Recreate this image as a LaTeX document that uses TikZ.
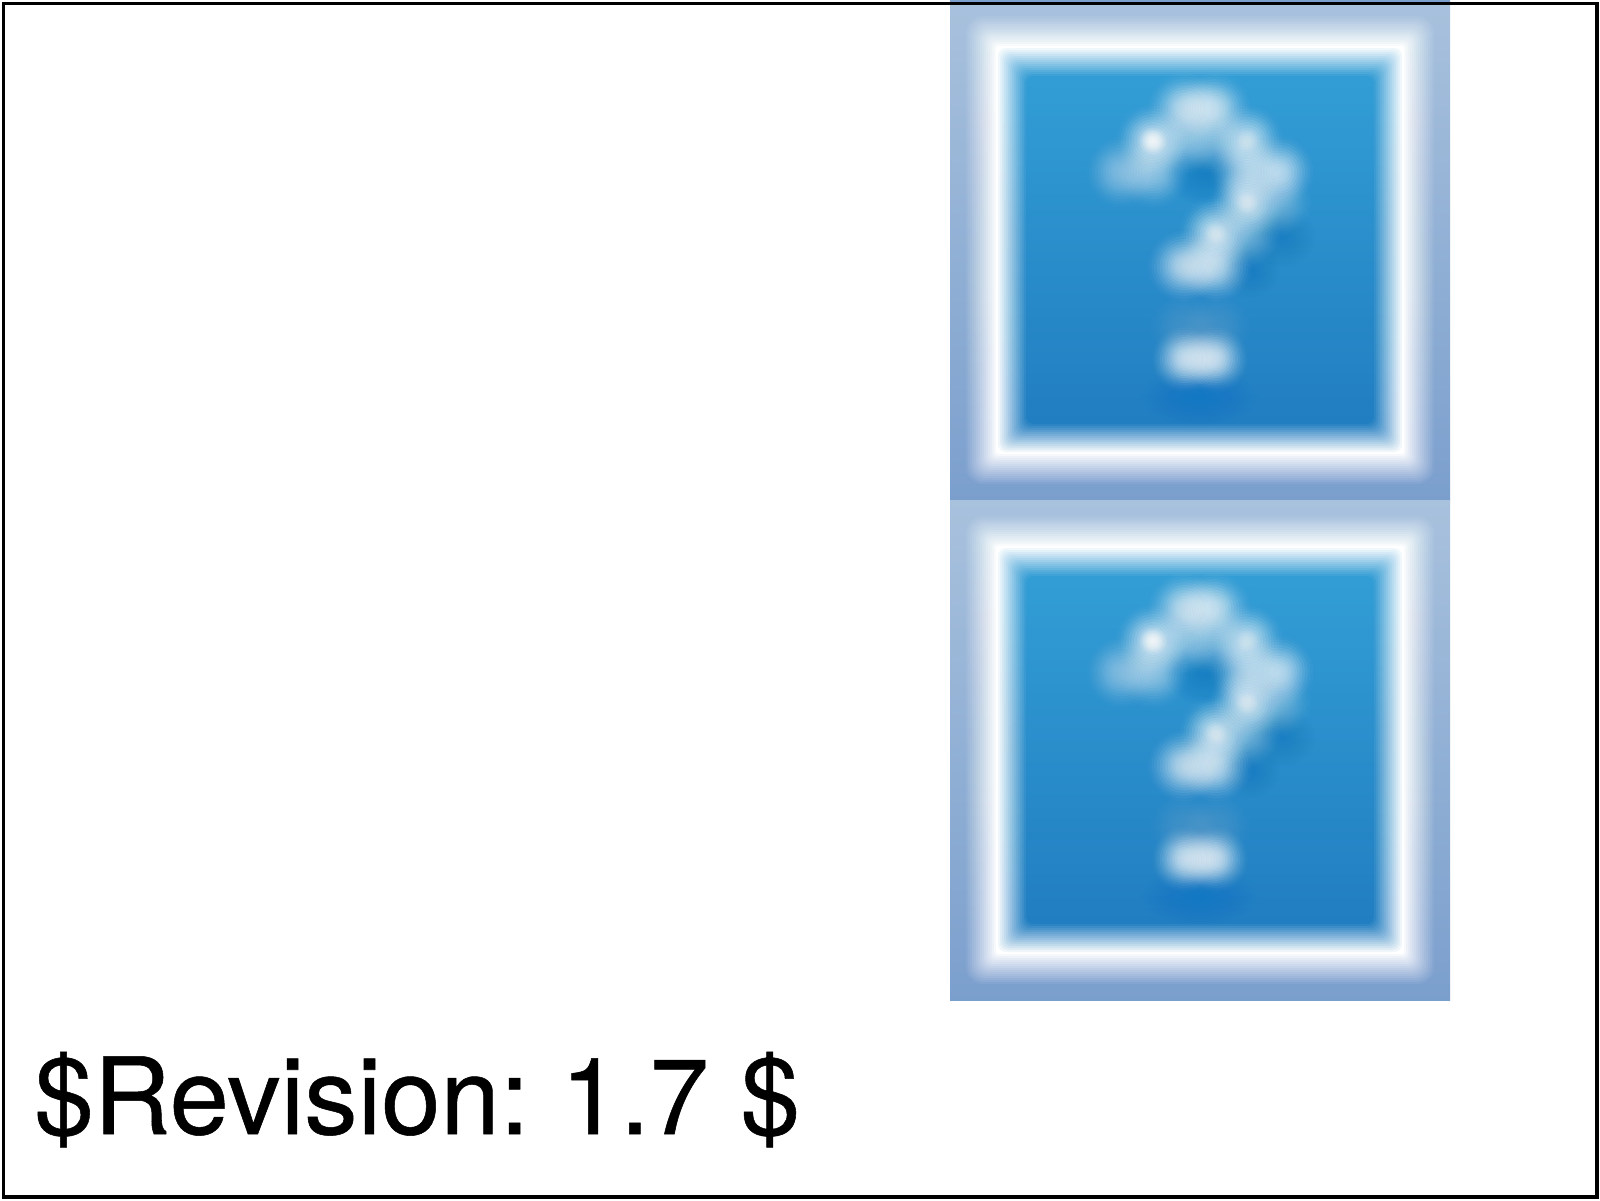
\documentclass[tikz,border=0pt]{standalone}
\usepackage{fontspec}
\setmainfont{TeX Gyre Heros}[FakeBold=0.5]
\definecolor{bgtop}{RGB}{168,193,221}
\definecolor{bgbot}{RGB}{123,159,205}
\definecolor{bluetop}{RGB}{50,157,213}
\definecolor{bluebot}{RGB}{33,126,193}
\definecolor{darkspot}{RGB}{15,120,195}
\tikzset{
  frameline/.style={draw=black,line width=1.75pt},
  revtext/.style={anchor=base west,inner sep=0pt,text=black,font=\fontsize{53.3}{60}\selectfont},
}
% soft blurred ellipse: x, y, rx, ry, colour, opacity per layer
\newcommand{\softspot}[6]{%
  \foreach \k in {1,...,16}{%
    \fill[#5,opacity=#6] (#1,#2) ellipse [x radius=#3*\k/16, y radius=#4*\k/16];
  }%
}
% soft white blob with a smoothstep profile: x, y, peak value, radius
\newcommand{\blob}[4]{%
  \foreach \k in {1,...,14}{%
    \pgfmathsetmacro{\sa}{\k/14}%
    \pgfmathsetmacro{\sb}{(\k-1)/14}%
    \pgfmathsetmacro{\Aa}{#3*\sa*\sa*(3-2*\sa)}%
    \pgfmathsetmacro{\Ab}{#3*\sb*\sb*(3-2*\sb)}%
    \pgfmathsetmacro{\pa}{1-(1-\Aa)/(1-\Ab)}%
    \fill[white,opacity=\pa] (#1,#2) circle [radius=#4*(15-\k)/14];
  }%
}
\newcommand{\qicon}[1]{%
\begin{scope}[shift={(950,#1)}]
  \shade[top color=bgtop,bottom color=bgbot] (0,0) rectangle (500,500);
  % white band, blurred outward
  \foreach \k in {0,...,15}{%
    \pgfmathsetmacro{\ins}{16+2*\k}
    \pgfmathsetmacro{\op}{1/(16-\k)}
    \pgfmathsetmacro{\rad}{(47-\ins)*0.25+1}
    \fill[white,opacity=\op,rounded corners=\rad pt] (\ins,\ins) rectangle (500-\ins,500-\ins);
  }
  % blue panel, blurred outward
  \foreach \k in {0,...,14}{%
    \pgfmathsetmacro{\ins}{48+2*\k}
    \pgfmathsetmacro{\op}{1/(15-\k)}
    \shade[top color=bluetop,bottom color=bluebot,opacity=\op,rounded corners=4pt] (\ins,\ins) rectangle (500-\ins,500-\ins);
  }
  % darker halos round the mark
  \softspot{256}{173}{40}{32}{darkspot}{0.05}
  \softspot{332}{237}{34}{30}{darkspot}{0.012}
  \softspot{300}{270}{30}{28}{darkspot}{0.02}
  \softspot{249}{397}{60}{28}{darkspot}{0.025}
  % the question mark, pixel by pixel
  \blob{234}{109}{.6}{38}\blob{250}{109}{.35}{36}\blob{265}{109}{.6}{38}
  \blob{203}{141}{.7}{38}\blob{234}{141}{.4}{36}\blob{265}{141}{.35}{36}\blob{297}{141}{.65}{38}
  \blob{172}{172}{.4}{38}\blob{203}{172}{.45}{38}\blob{297}{172}{.55}{38}\blob{328}{172}{.65}{38}
  \blob{297}{203}{.7}{38}\blob{328}{203}{.3}{36}
  \blob{266}{234}{.7}{38}\blob{297}{234}{.3}{36}
  \blob{234}{266}{.6}{38}\blob{250}{266}{.3}{34}\blob{266}{266}{.6}{38}
  \blob{234}{328}{.13}{40}\blob{266}{328}{.13}{40}
  \blob{234}{359}{.65}{34}\blob{250}{359}{.45}{32}\blob{266}{359}{.65}{34}
  % bright pixel centres
  \blob{203}{141}{.75}{16}\blob{297}{141}{.3}{14}\blob{297}{203}{.35}{14}\blob{266}{234}{.35}{14}
\end{scope}}
\begin{document}
\begin{tikzpicture}[x=0.5pt,y=-0.5pt]
  \useasboundingbox (0,0) rectangle (1600,1200);
  \fill[white] (0,0) rectangle (1600,1200);
  \qicon{0}
  \qicon{500}
  \fill[bgbot] (950,0) rectangle (1450,2);
  \draw[frameline] (3.25,3.25) rectangle (1597,1196.75);
  \node[revtext] (rev) at (34,1134) {\$Revision:\kern-4pt{} 1.7\kern1pt{} \$};
\end{tikzpicture}
\end{document}
